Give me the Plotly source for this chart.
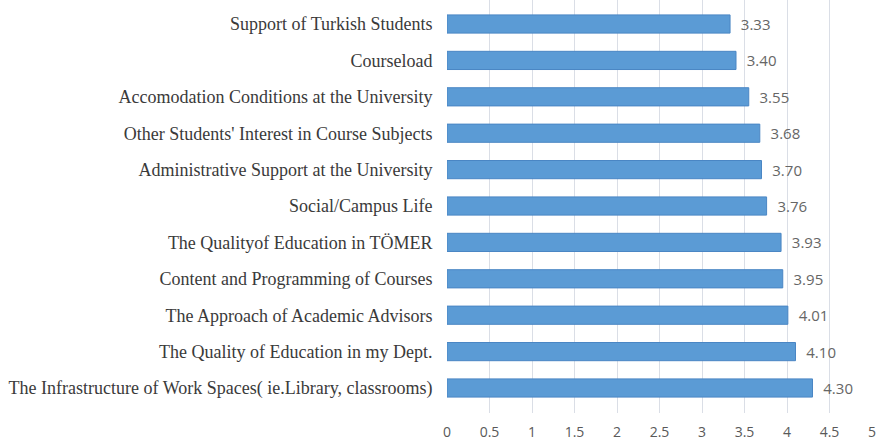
import plotly.graph_objects as go

categories = [
    "The Infrastructure of Work Spaces( ie.Library, classrooms)",
    "The Quality of Education in my Dept.",
    "The Approach of Academic Advisors",
    "Content and Programming of Courses",
    "The Qualityof Education in TÖMER",
    "Social/Campus Life",
    "Administrative Support at the University",
    "Other Students' Interest in Course Subjects",
    "Accomodation Conditions at the University",
    "Courseload",
    "Support of Turkish Students",
]
values = [4.30, 4.10, 4.01, 3.95, 3.93, 3.76, 3.70, 3.68, 3.55, 3.40, 3.33]
tick_vals = [0, 0.5, 1, 1.5, 2, 2.5, 3, 3.5, 4, 4.5, 5]
tick_text = ["0", "0.5", "1", "1.5", "2", "2.5", "3", "3.5", "4", "4.5", "5"]

fig = go.Figure(go.Bar(
    x=values,
    y=categories,
    orientation="h",
    marker=dict(color="#5B9BD5", line=dict(color="#4A86C4", width=1)),
    width=0.5,
    text=[f"  {v:.2f}" for v in values],
    textposition="outside",
    constraintext="none",
    textfont=dict(family="Open Sans, sans-serif", size=15, color="#666666"),
    cliponaxis=False,
))

fig.update_layout(
    width=881, height=442,
    margin=dict(l=447, r=9, t=0, b=29),
    paper_bgcolor="white", plot_bgcolor="white",
    showlegend=False,
    xaxis=dict(
        range=[0, 5], tickvals=tick_vals, ticktext=tick_text,
        showgrid=True, gridcolor="#DADEE6", gridwidth=1,
        zeroline=False, showline=False, automargin=False,
        ticks="outside", ticklen=6, tickcolor="rgba(0,0,0,0)",
        ticklabeloverflow="allow",
        tickfont=dict(family="Open Sans, sans-serif", size=14, color="#595959"),
    ),
    yaxis=dict(
        categoryorder="array", categoryarray=categories,
        range=[-0.687, 10.66],
        showgrid=False, showline=False, zeroline=False, automargin=False,
        ticks="", ticksuffix="   ",
        tickfont=dict(family="Liberation Serif, serif", size=18, color="#3A3A3A"),
    ),
)

fig.write_html(
    "out.html",
    config={"displayModeBar": False},
    post_script="document.body.style.margin='0';document.body.style.overflow='hidden';",
)
